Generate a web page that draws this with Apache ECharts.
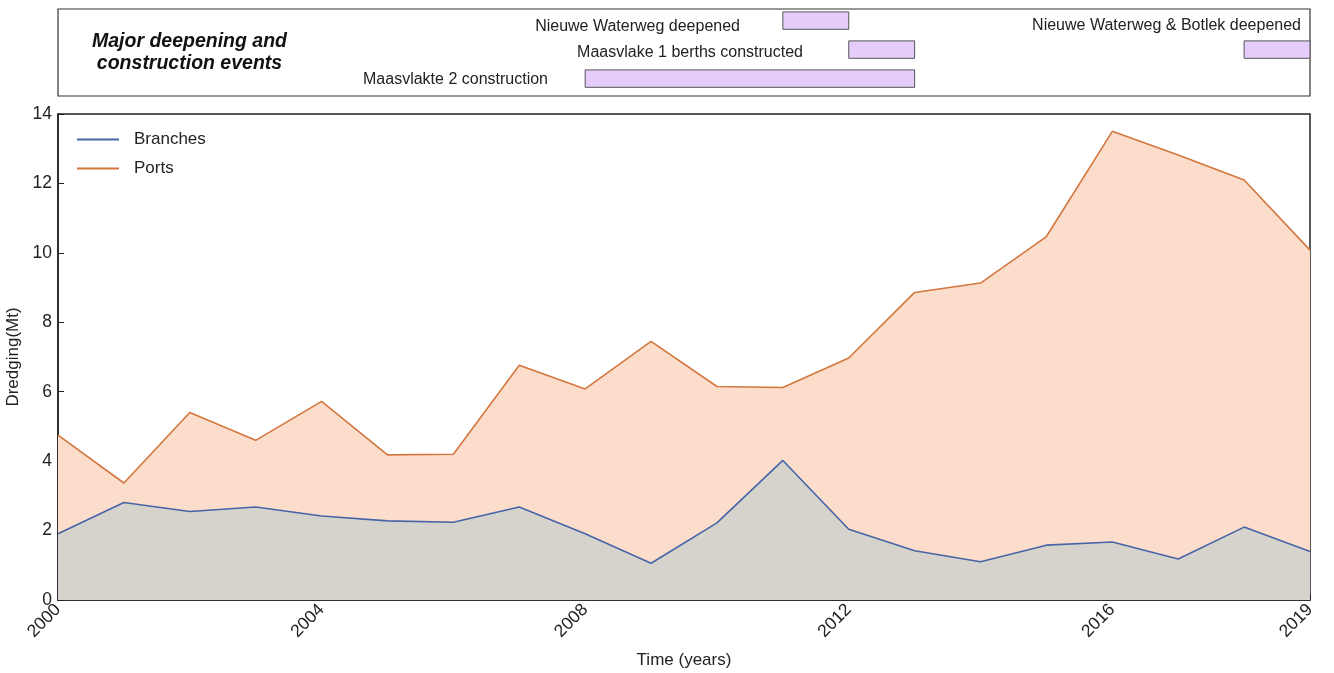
<!DOCTYPE html>
<html><head><meta charset="utf-8">
<script src="https://cdn.jsdelivr.net/npm/echarts@6/dist/echarts.min.js"></script>
<style>html,body{margin:0;padding:0;background:#fff}#c{width:1334px;height:673px}</style>
</head><body><div id="c"></div>
<script>
const years = [2000,2001,2002,2003,2004,2005,2006,2007,2008,2009,2010,2011,2012,2013,2014,2015,2016,2017,2018,2019];
const ports = [4.75,3.37,5.4,4.6,5.72,4.18,4.2,6.76,6.08,7.45,6.15,6.12,6.97,8.86,9.13,10.47,13.5,12.82,12.1,10.08];
const branches = [1.91,2.81,2.55,2.68,2.42,2.28,2.24,2.68,1.91,1.06,2.22,4.02,2.04,1.42,1.1,1.58,1.67,1.18,2.1,1.4];
const eventNames = ['Nieuwe Waterweg deepened','Maasvlake 1 berths constructed','Maasvlakte 2 construction','Nieuwe Waterweg & Botlek deepened'];
const eventStart = [2011,2012,2008,2018];
const eventEnd = [2012,2013,2013,2019];
const eventRow = [2,1,0,1];
const yTicks = [0,2,4,6,8,10,12,14];

const FONT = 'Liberation Sans, Arial, sans-serif';
const chart = echarts.init(document.getElementById('c'));
const eventData = eventNames.map((n,i)=>[eventStart[i],eventEnd[i],eventRow[i]]);

chart.setOption({
  animation:false,
  textStyle:{fontFamily:FONT},
  grid:[
    {left:58,right:24,top:9,height:87,show:true,borderColor:'#333',borderWidth:1.2,backgroundColor:'#fff',outerBoundsMode:'none',containLabel:false},
    {left:58,right:24,top:114,bottom:73,show:true,borderColor:'#222',borderWidth:1.5,outerBoundsMode:'none',containLabel:false}
  ],
  xAxis:[
    {gridIndex:0,type:'value',min:2000,max:2019,show:false},
    {gridIndex:1,type:'value',min:2000,max:2019,interval:4,
      axisLine:{show:true,lineStyle:{color:'#222',width:1.5}},
      axisTick:{show:true,inside:true,length:6,lineStyle:{color:'#222'}},
      splitLine:{show:false},
      axisLabel:{rotate:45,fontSize:17.5,color:'#222',margin:7,fontFamily:FONT,formatter:function(v){return String(v);}},
      name:'Time (years)',nameLocation:'middle',nameGap:52,
      nameTextStyle:{fontSize:17,color:'#222',fontFamily:FONT}}
  ],
  yAxis:[
    {gridIndex:0,type:'value',min:0,max:3,show:false},
    {gridIndex:1,type:'value',min:yTicks[0],max:yTicks[yTicks.length-1],interval:2,
      axisLine:{show:true,lineStyle:{color:'#222',width:1.5}},
      axisTick:{show:true,inside:true,length:6,lineStyle:{color:'#222'}},
      splitLine:{show:false},
      axisLabel:{fontSize:17.5,color:'#222',margin:6,fontFamily:FONT},
      name:'Dredging(Mt)',nameLocation:'middle',nameGap:32,
      nameTextStyle:{fontSize:17,color:'#222',fontFamily:FONT}}
  ],
  legend:{
    left:72,top:126,orient:'vertical',itemGap:12,itemWidth:42,itemHeight:2,icon:'rect',
    textStyle:{fontSize:17,color:'#222',padding:[0,0,0,10],fontFamily:FONT},
    data:[
      {name:'Branches',itemStyle:{color:'#4565a8'}},
      {name:'Ports',itemStyle:{color:'#d4773f'}}
    ]
  },
  graphic:[
    {type:'text',left:92,top:31,style:{text:'Major deepening and\nconstruction events',font:'italic bold 19.5px '+FONT,fill:'#111',textAlign:'center',lineHeight:22}},
    {type:'text',right:594,top:19,style:{text:eventNames[0],font:'16px '+FONT,fill:'#222'}},
    {type:'text',right:531,top:45,style:{text:eventNames[1],font:'16px '+FONT,fill:'#222'}},
    {type:'text',right:786,top:72,style:{text:eventNames[2],font:'16px '+FONT,fill:'#222'}},
    {type:'text',right:33,top:18,style:{text:eventNames[3],font:'16px '+FONT,fill:'#222'}}
  ],
  series:[
    {type:'custom',xAxisIndex:0,yAxisIndex:0,data:eventData,silent:true,
      renderItem:function(params,api){
        const a=api.coord([api.value(0),api.value(2)+0.9]);
        const b=api.coord([api.value(1),api.value(2)+0.3]);
        return {type:'rect',shape:{x:a[0],y:a[1],width:b[0]-a[0],height:b[1]-a[1]},
          style:{fill:'#e5ccfb',stroke:'#555',lineWidth:1}};
      }},
    {name:'Ports',type:'line',xAxisIndex:1,yAxisIndex:1,data:years.map((y,i)=>[y,ports[i]]),
      symbol:'none',lineStyle:{color:'#d4773f',width:1.6},itemStyle:{color:'#d4773f'},
      areaStyle:{color:'#fcdcca',opacity:1},z:2},
    {name:'Branches',type:'line',xAxisIndex:1,yAxisIndex:1,data:years.map((y,i)=>[y,branches[i]]),
      symbol:'none',lineStyle:{color:'#4565a8',width:1.6},itemStyle:{color:'#4565a8'},
      areaStyle:{color:'#d6d3cc',opacity:1},z:3}
  ]
});
</script></body></html>
